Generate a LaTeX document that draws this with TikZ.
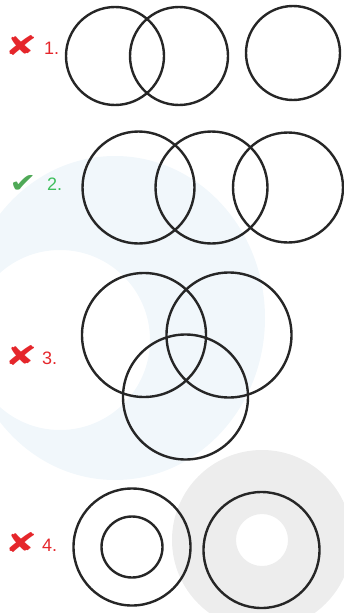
\documentclass[tikz,border=0pt]{standalone}
\usepackage{fontspec}
\setmainfont{Liberation Sans}
\newfontfamily\symfont{DejaVu Sans}
\usetikzlibrary{positioning}
\definecolor{wrongred}{HTML}{E5262B}
\definecolor{rightgreen}{HTML}{3DBE5B}
\definecolor{markgreen}{HTML}{4FA957}
\definecolor{wmgray}{HTML}{EDEDED}
\definecolor{wmblue}{HTML}{F1F7FB}

\begin{document}
\begin{tikzpicture}[x=1pt, y=-1pt, font=\fontsize{18}{20}\selectfont,
  ring/.style={draw=black!85, line width=2.4pt, circle, inner sep=0pt},
  num/.style={anchor=west, inner sep=1pt},
  sign/.style={font=\symfont\fontsize{27}{27}\selectfont, inner sep=0pt}]
\useasboundingbox (0,0) rectangle (344,613);
% faint watermark behind
\fill[wmblue, even odd rule] (115,318) ellipse (150 and 162) (60,340) circle (90);
\fill[wmgray, even odd rule] (262,540) circle (90) (262,540) circle (26);
% answers
\foreach \n/\x/\y in {1/43/48, 3/41/358, 4/41/545} {
  \node[num, text=wrongred] (n\n) at (\x,\y) {\n.};
  \node[sign, text=wrongred] (s\n) at (21,\y-2) {\scalebox{1.45}[1]{✘}};
}
\node[num, text=rightgreen] (n2) at (46,184) {2.};
\node[sign, text=markgreen] (s2) at (23,184) {\scalebox{1.2}[1]{✔}};
% circles
\foreach \i/\x/\y/\r in {a1/115/56/49, b1/179/56/49, c1/293/53/47,
    a2/138.5/187.5/56, b2/211.5/187.5/56, c2/288/187.5/55,
    a3/144/335/62, b3/229/335/62.5, c3/185.5/397/62.5,
    a4/132/547/58.5, b4/132/547/30.5, c4/261.5/550/58}
  \node[ring, minimum size=2*\r] (\i) at (\x,\y) {};
\end{tikzpicture}
\end{document}
